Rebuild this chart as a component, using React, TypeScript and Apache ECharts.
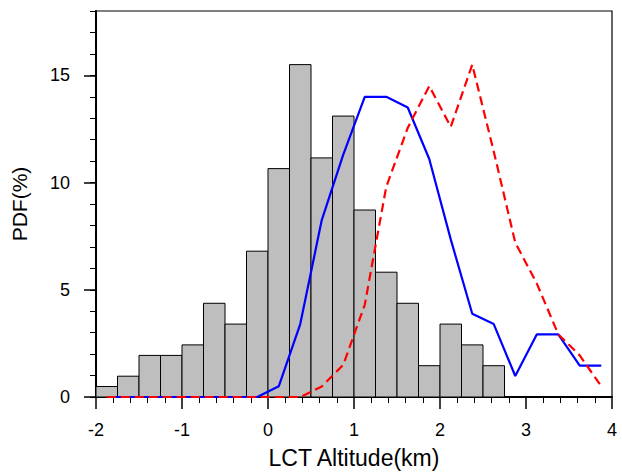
import React, { useEffect, useRef } from "react";
import * as echarts from "echarts";

// Histogram bins (lower edge, upper edge) and PDF (%)
const binLower = [-2.0, -1.75, -1.5, -1.25, -1.0, -0.75, -0.5, -0.25, 0.0, 0.25, 0.5, 0.75, 1.0, 1.25, 1.5, 1.75, 2.0, 2.25, 2.5];
const binUpper = [-1.75, -1.5, -1.25, -1.0, -0.75, -0.5, -0.25, 0.0, 0.25, 0.5, 0.75, 1.0, 1.25, 1.5, 1.75, 2.0, 2.25, 2.5, 2.75];
const histPdf = [0.49, 0.97, 1.94, 1.94, 2.43, 4.37, 3.40, 6.80, 10.65, 15.5, 11.15, 13.1, 8.72, 5.82, 4.37, 1.46, 3.40, 2.43, 1.46];

// Line curves at bin centres
const curveX = [-1.875, -1.625, -1.375, -1.125, -0.875, -0.625, -0.375, -0.125, 0.125, 0.375, 0.625, 0.875, 1.125, 1.375, 1.625, 1.875, 2.125, 2.375, 2.625, 2.875, 3.125, 3.375, 3.625, 3.875];
const bluePdf = [0, 0, 0, 0, 0, 0, 0, 0, 0.5, 3.4, 8.25, 11.3, 14.0, 14.0, 13.5, 11.1, 7.35, 3.88, 3.4, 0.98, 2.92, 2.92, 1.46, 1.46];
const redPdf = [0, 0, 0, 0, 0, 0, 0, 0, 0, 0, 0.49, 1.5, 4.3, 9.8, 12.55, 14.5, 12.6, 15.5, 11.45, 7.2, 5.3, 2.93, 1.94, 0.5];

const majorY = [0, 5, 10, 15];

const FONT = "Liberation Sans, Arial, Helvetica, sans-serif";

export default function App() {
  const ref = useRef<HTMLDivElement>(null);
  useEffect(() => {
    if (!ref.current) return;
    const chart = echarts.init(ref.current, null, { renderer: "svg" });
    const histData = binLower.map((l, i) => [l, binUpper[i], histPdf[i]]);
    const blueData = curveX.map((x, i) => [x, bluePdf[i]]);
    const redData = curveX.map((x, i) => [x, redPdf[i]]);
    chart.setOption({
      animation: false,
      backgroundColor: "#fff",
      grid: {
        left: 96,
        right: 10,
        top: 11,
        bottom: 77,
        show: true,
        borderColor: "#000",
        borderWidth: 1.2,
        backgroundColor: "transparent",
      },
      xAxis: {
        type: "value",
        min: -2,
        max: 4,
        interval: 1,
        name: "LCT Altitude(km)",
        nameLocation: "middle",
        nameGap: 49,
        nameTextStyle: { fontFamily: FONT, fontSize: 23, color: "#000" },
        axisLine: { show: true, onZero: false, lineStyle: { color: "#000", width: 2 } },
        axisTick: { show: true, inside: false, length: 12, lineStyle: { color: "#000", width: 1.5 } },
        minorTick: { show: true, splitNumber: 5, length: 6, lineStyle: { color: "#000", width: 1 } },
        splitLine: { show: false },
        axisLabel: { fontFamily: FONT, fontSize: 18, color: "#000", margin: 24 },
      },
      yAxis: [
        {
          type: "value",
          min: 0,
          max: 18,
          interval: 1,
          position: "left",
          name: "PDF(%)",
          nameLocation: "middle",
          nameGap: 66,
          nameTextStyle: { fontFamily: FONT, fontSize: 21, color: "#000" },
          axisLine: { show: true, onZero: false, lineStyle: { color: "#000", width: 2 } },
          axisTick: { show: true, inside: false, length: 6, lineStyle: { color: "#000", width: 1 } },
          splitLine: { show: false },
          axisLabel: { show: false },
        },
        {
          type: "value",
          min: 0,
          max: 18,
          interval: 5,
          position: "left",
          offset: 0,
          axisLine: { show: false, onZero: false },
          axisTick: { show: true, inside: false, length: 12, customValues: majorY, lineStyle: { color: "#000", width: 1.5 } },
          splitLine: { show: false },
          axisLabel: {
            fontFamily: FONT,
            fontSize: 18,
            color: "#000",
            margin: 26,
            customValues: majorY,
            formatter: (v: number) => (v % 5 === 0 ? String(v) : ""),
          },
        },
      ],
      series: [
        {
          type: "custom",
          yAxisIndex: 0,
          data: histData,
          encode: { x: [0, 1], y: 2 },
          renderItem: (params: any, api: any) => {
            const x0 = api.value(0);
            const x1 = api.value(1);
            const y = api.value(2);
            const pTop = api.coord([x0, y]);
            const pBot = api.coord([x1, 0]);
            return {
              type: "rect",
              shape: { x: pTop[0], y: pTop[1], width: pBot[0] - pTop[0], height: pBot[1] - pTop[1] },
              style: { fill: "#bebebe", stroke: "#000", lineWidth: 1 },
            };
          },
          z: 1,
        },
        {
          type: "line",
          yAxisIndex: 0,
          data: blueData,
          showSymbol: false,
          symbol: "none",
          lineStyle: { color: "#0000ff", width: 2.2 },
          z: 3,
        },
        {
          type: "line",
          yAxisIndex: 0,
          data: redData,
          showSymbol: false,
          symbol: "none",
          lineStyle: { color: "#ff0000", width: 2.2, type: [9, 5] },
          z: 4,
        },
      ],
    });
    return () => chart.dispose();
  }, []);
  return <div ref={ref} style={{ width: 622, height: 474, position: "absolute", left: 0, top: 0 }} />;
}
